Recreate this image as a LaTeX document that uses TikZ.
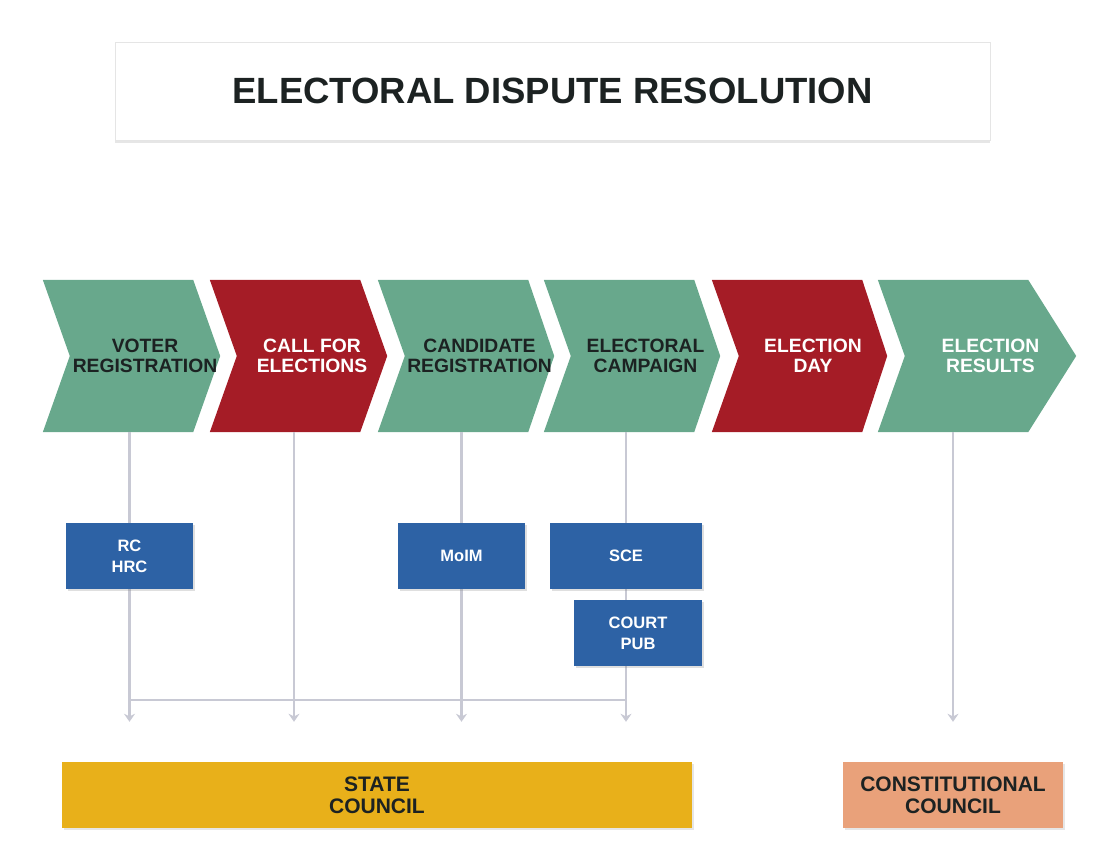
\documentclass[tikz,border=0pt]{standalone}
\usepackage{fontspec}
\setmainfont{Liberation Sans}
\usepackage{xcolor}
\usetikzlibrary{arrows.meta,positioning,backgrounds,shadows}

\definecolor{stagegreen}{RGB}{104,168,140}
\definecolor{stagered}{RGB}{165,28,38}
\definecolor{bodyblue}{RGB}{45,98,165}
\definecolor{councilgold}{RGB}{232,176,26}
\definecolor{councilpeach}{RGB}{233,161,122}
\definecolor{ink}{RGB}{28,34,34}
\definecolor{linkgray}{RGB}{200,201,212}

\begin{document}
\begin{tikzpicture}[
    x=1pt, y=1pt,
    stage/.style={rectangle, minimum height=152pt, inner sep=0pt, align=center, font=\bfseries\fontsize{19.3}{20.5}\selectfont},
    body/.style={rectangle, fill=bodyblue, text=white, minimum height=66pt, align=center, font=\bfseries\fontsize{16.5}{21}\selectfont, drop shadow={opacity=0.25, shadow xshift=2pt, shadow yshift=-2pt}},
    council/.style={rectangle, fill=#1, text=ink, minimum height=66pt, align=center, font=\bfseries\fontsize{21}{22}\selectfont, drop shadow={opacity=0.2, shadow xshift=2pt, shadow yshift=-2pt}},
    council/.default=councilgold,
    link/.style={line width=2.5pt, color=linkgray},
    arr/.style={link, -{Stealth[length=8pt, width=11pt]}, shorten >=40pt}
]
    \useasboundingbox (0,0) rectangle (1106,852);

    % Title
    \node[rectangle, draw=gray!20, fill=white, minimum width=875pt, minimum height=98pt, text=ink, font=\bfseries\fontsize{36.5}{40}\selectfont, drop shadow={opacity=0.2, shadow xshift=0pt, shadow yshift=-3pt}] (title) at (552.5,761) {ELECTORAL DISPUTE RESOLUTION};

    % Stages of the electoral process (chevrons)
    \foreach \name/\lx/\tip/\fc/\tc/\txt in {
        c1/43/27/stagegreen/ink/{VOTER\\REGISTRATION},
        c2/210/27/stagered/white/{CALL FOR\\ELECTIONS},
        c3/378/26/stagegreen/ink/{CANDIDATE\\REGISTRATION},
        c4/544/26/stagegreen/ink/{ELECTORAL\\CAMPAIGN},
        c5/712/25/stagered/white/{ELECTION\\DAY},
        c6/878/48/stagegreen/white/{ELECTION\\RESULTS}}{
        \node[stage, minimum width=123+\tip, text=\tc] (\name) at (\lx+88.5+\tip/2,496) {\txt};
        \begin{pgfonlayer}{background}
            \fill[\fc] (\name.west) -- ([xshift=-27]\name.north west) -- ([xshift=-\tip]\name.north east) -- (\name.east) -- ([xshift=-\tip]\name.south east) -- ([xshift=-27]\name.south west) -- cycle;
        \end{pgfonlayer}
    }

    % Bodies in charge
    \node[body, minimum width=127pt] (rc) at (129.5,296) {RC\\HRC};
    \node[body, minimum width=127pt] (moim) at (461.5,296) {MoIM};
    \node[body, minimum width=152pt] (sce) at (626,296) {SCE};
    \node[body, minimum width=128pt, below left=11pt and 0pt of sce.south east] (court) {COURT\\PUB};

    % Councils
    \node[council=councilgold, minimum width=630pt] (sc) at (377,57) {STATE\\COUNCIL};
    \node[council=councilpeach, minimum width=220pt] (cc) at (953,57) {CONSTITUTIONAL\\COUNCIL};

    % Connections
    \coordinate (merge) at (0,152);
    \begin{scope}[on background layer]
        \draw[arr] (rc |- c1.south) -- (rc |- sc.north);
        \draw[arr] ([xshift=-18]c2.south) -- ([xshift=-18]c2.south |- sc.north);
        \draw[arr] (moim |- c3.south) -- (moim |- sc.north);
        \draw[arr] (sce |- c4.south) -- (sce |- sc.north);
        \draw[arr] (cc |- c6.south) -- (cc.north);
        \draw[link] (rc |- merge) -- (sce |- merge);
    \end{scope}

\end{tikzpicture}
\end{document}
